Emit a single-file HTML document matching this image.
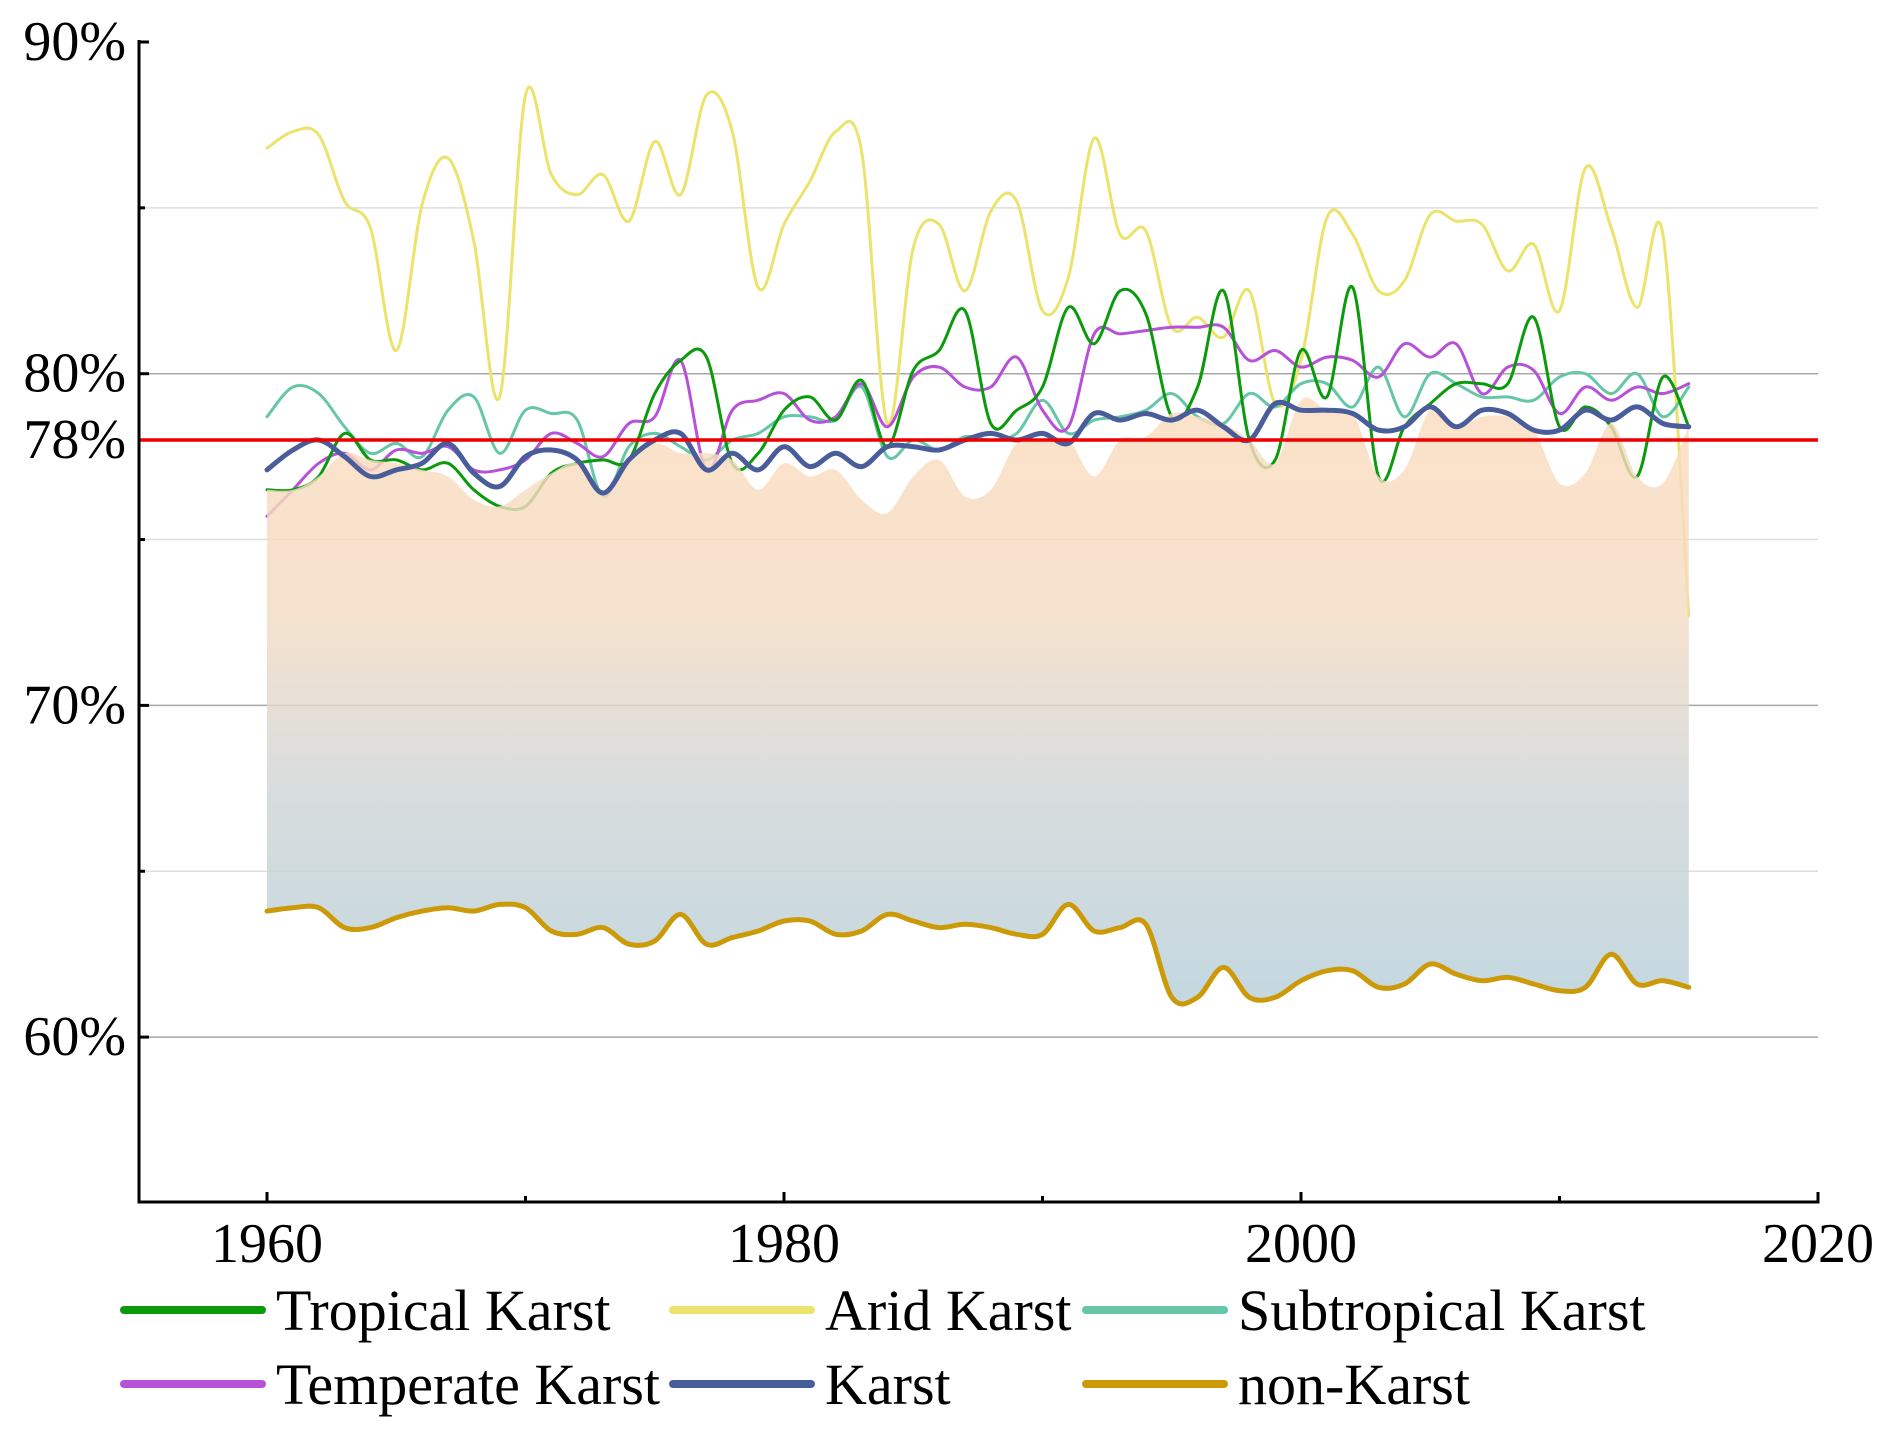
<!DOCTYPE html>
<html><head><meta charset="utf-8">
<style>
html,body{margin:0;padding:0;background:#fff;}
svg{display:block;}
text{font-family:"Liberation Serif",serif;fill:#000;}
</style></head>
<body>
<svg id="chart" width="1892" height="1434" viewBox="0 0 1892 1434" xmlns="http://www.w3.org/2000/svg">
<defs>
<linearGradient id="fillGrad" x1="0" y1="0" x2="0" y2="1">
<stop offset="0" stop-color="#fbdcbd"/>
<stop offset="0.35" stop-color="#f4dcc4"/>
<stop offset="0.65" stop-color="#cfd5d6"/>
<stop offset="1" stop-color="#b6cfd9"/>
</linearGradient>
</defs>
<g id="grid"></g>
<g id="under"></g>
<g id="fillg"></g>
<g id="over"></g>
<g id="axes"></g>
<g id="legend"></g>
</svg>
<script>
const years = [];
for (let y = 1960; y <= 2015; y++) years.push(y);
const arid = [86.8,87.3,87.2,85.2,84.4,80.7,85.1,86.5,84.0,79.3,88.4,86.0,85.4,86.0,84.6,87.0,85.4,88.4,87.3,82.6,84.5,85.8,87.3,86.7,78.5,83.8,84.5,82.5,84.9,85.2,81.9,82.9,87.1,84.2,84.3,81.4,81.7,81.1,82.5,79.1,80.4,84.7,84.2,82.5,82.8,84.8,84.6,84.5,83.1,83.9,81.9,86.2,84.4,82.0,84.2,72.7];
const tropical = [76.5,76.5,76.9,78.2,77.4,77.4,77.1,77.3,76.5,76.0,76.0,77.0,77.3,77.4,77.4,79.4,80.4,80.5,77.3,77.6,78.9,79.3,78.6,79.8,77.8,80.1,80.7,81.9,78.5,78.9,79.6,82.0,80.9,82.5,81.8,78.7,79.6,82.5,78.0,77.4,80.7,79.3,82.6,76.9,78.4,79.1,79.7,79.7,79.7,81.7,78.4,79.0,78.4,76.9,79.9,78.4];
const subtropical = [78.7,79.6,79.4,78.4,77.6,77.9,77.5,78.9,79.3,77.6,78.9,78.8,78.6,76.3,77.8,78.2,77.8,77.4,78.0,78.2,78.7,78.7,78.6,79.6,77.5,78.0,77.7,78.1,78.0,78.2,79.2,78.2,78.6,78.7,78.9,79.4,78.7,78.5,79.4,79.0,79.7,79.7,79.0,80.2,78.7,80.0,79.7,79.3,79.3,79.2,79.9,80.0,79.4,80.0,78.7,79.6];
const temperate = [75.7,76.5,77.3,77.6,77.1,77.7,77.6,77.8,77.1,77.1,77.4,78.2,77.9,77.5,78.5,78.7,80.4,77.1,78.9,79.2,79.4,78.6,78.7,79.7,78.4,79.9,80.2,79.6,79.6,80.5,78.9,78.4,81.2,81.2,81.3,81.4,81.4,81.4,80.4,80.7,80.2,80.5,80.4,79.9,80.9,80.5,80.9,79.4,80.2,80.1,78.8,79.6,79.2,79.6,79.4,79.7];
const karst = [77.1,77.7,78.0,77.5,76.9,77.1,77.3,77.9,77.0,76.6,77.5,77.7,77.4,76.4,77.4,78.0,78.2,77.1,77.6,77.1,77.8,77.2,77.6,77.2,77.8,77.8,77.7,78.0,78.2,78.0,78.2,77.9,78.8,78.6,78.8,78.6,78.9,78.4,78.0,79.1,78.9,78.9,78.8,78.3,78.4,79.0,78.4,78.9,78.8,78.3,78.3,78.9,78.6,79.0,78.5,78.4];
const nonKarst = [63.8,63.9,63.9,63.3,63.3,63.6,63.8,63.9,63.8,64.0,63.9,63.2,63.1,63.3,62.8,62.9,63.7,62.8,63.0,63.2,63.5,63.5,63.1,63.2,63.7,63.5,63.3,63.4,63.3,63.1,63.1,64.0,63.2,63.3,63.4,61.2,61.2,62.1,61.2,61.2,61.7,62.0,62.0,61.5,61.6,62.2,61.9,61.7,61.8,61.6,61.4,61.5,62.5,61.6,61.7,61.5];
const fillTop = [76.5,76.5,76.9,77.6,77.4,77.3,77.1,76.9,76.2,76.0,76.5,77.0,77.3,76.5,77.4,77.9,77.6,77.6,77.4,76.5,77.3,76.9,77.1,76.2,75.8,76.9,77.4,76.3,76.5,77.9,78.0,78.0,76.9,78.0,78.1,78.8,78.7,78.5,78.0,77.3,79.2,78.9,78.8,76.9,77.1,78.9,78.4,78.7,78.7,78.3,76.7,77.0,78.5,76.9,76.7,78.4];
const yTicks = [60,70,80,90];
const yMinor = [65,75,85];
const xTicks = [1960,1980,2000,2020];
const xMinor = [1970,1990,2010];
const refValue = 78;

const NS = "http://www.w3.org/2000/svg";
const X0 = 139, X1 = 1818, YB = 1202;
function xs(yr){ return 267 + (yr - 1960) * 25.85; }
function ys(v){ return 42 + (90 - v) * 33.17; }
function mk(tag, attrs, parent){ const e = document.createElementNS(NS, tag); for (const k in attrs) e.setAttribute(k, attrs[k]); parent.appendChild(e); return e; }
function pts(arr){ return arr.map((v,i)=>[xs(years[i]), ys(v)]); }
function smooth(p, start){
  let d = (start ? "M" : "L") + p[0][0].toFixed(1)+","+p[0][1].toFixed(1);
  for (let i=0;i<p.length-1;i++){
    const p0=p[Math.max(0,i-1)], p1=p[i], p2=p[i+1], p3=p[Math.min(p.length-1,i+2)];
    const c1=[p1[0]+(p2[0]-p0[0])/6, p1[1]+(p2[1]-p0[1])/6];
    const c2=[p2[0]-(p3[0]-p1[0])/6, p2[1]-(p3[1]-p1[1])/6];
    d += "C"+c1[0].toFixed(1)+","+c1[1].toFixed(1)+" "+c2[0].toFixed(1)+","+c2[1].toFixed(1)+" "+p2[0].toFixed(1)+","+p2[1].toFixed(1);
  }
  return d;
}

const grid = document.getElementById("grid");
[85,80,75,70,65,60].forEach(v=>{
  const l = mk("line",{x1:X0,x2:X1,y1:ys(v),y2:ys(v),stroke:(v%10===0)?"#a8a8a8":"#dedede","stroke-width":1.5},grid);
  
  
});

const under = document.getElementById("under");
function series(arr, color, w, name, parent){
  const p = mk("path",{d:smooth(pts(arr),true),fill:"none",stroke:color,"stroke-width":w,"stroke-linejoin":"round","stroke-linecap":"round"},parent);
  
  
}
series(arid,"#ebe36c",3,"arid-karst-line",under);
series(subtropical,"#66c6a8",3,"subtropical-karst-line",under);
series(temperate,"#b651d8",3,"temperate-karst-line",under);
series(tropical,"#0b9a0b",3,"tropical-karst-line",under);

const fillg = document.getElementById("fillg");
let fd = smooth(pts(fillTop),true);
fd += smooth(pts(nonKarst).reverse(),false) + "Z";
const fp = mk("path",{d:fd,fill:"url(#fillGrad)",opacity:0.82},fillg);



const over = document.getElementById("over");
series(karst,"#4a5d9b",5,"karst-line",over);
series(nonKarst,"#cc9a08",5,"non-karst-line",over);
const red = mk("line",{x1:X0,x2:X1,y1:ys(refValue),y2:ys(refValue),stroke:"#ee0000","stroke-width":3.5},over);



const axes = document.getElementById("axes");
const ya = mk("line",{x1:X0,x2:X0,y1:40,y2:YB+1.5,stroke:"#000","stroke-width":3},axes);


const xa = mk("line",{x1:X0-1.5,x2:X1+1.5,y1:YB,y2:YB,stroke:"#000","stroke-width":3},axes);


yTicks.forEach(v=>{
  mk("line",{x1:X0,x2:X0+10,y1:ys(v),y2:ys(v),stroke:"#000","stroke-width":3},axes);
  const t = mk("text",{x:126,y:ys(v)+18,"text-anchor":"end","font-size":56},axes);
  t.textContent = v+"%";
  
  
});
yMinor.forEach(v=>{ mk("line",{x1:X0,x2:X0+6,y1:ys(v),y2:ys(v),stroke:"#000","stroke-width":3},axes); });
const t78 = mk("text",{x:126,y:ys(refValue)+18,"text-anchor":"end","font-size":56},axes);
t78.textContent = refValue+"%";


xTicks.forEach(yr=>{
  mk("line",{x1:xs(yr),x2:xs(yr),y1:YB,y2:YB-10,stroke:"#000","stroke-width":3},axes);
  const t = mk("text",{x:xs(yr),y:1262,"text-anchor":"middle","font-size":56},axes);
  t.textContent = yr;
  
  
});
xMinor.forEach(yr=>{ mk("line",{x1:xs(yr),x2:xs(yr),y1:YB,y2:YB-6,stroke:"#000","stroke-width":3},axes); });

const legend = document.getElementById("legend");
const legItems = [
  ["Tropical Karst","#0b9a0b",124,1310],["Arid Karst","#ebe36c",673,1310],["Subtropical Karst","#66c6a8",1086,1310],
  ["Temperate Karst","#b651d8",124,1384],["Karst","#4a5d9b",673,1384],["non-Karst","#cc9a08",1086,1384]
];
legItems.forEach(it=>{
  const g = mk("g",{},legend);
  
  
  mk("line",{x1:it[2],x2:it[2]+138,y1:it[3],y2:it[3],stroke:it[1],"stroke-width":8,"stroke-linecap":"round"},g);
  const t = mk("text",{x:it[2]+152,y:it[3]+20,"font-size":58},g);
  t.textContent = it[0];
});
</script>
</body></html>
